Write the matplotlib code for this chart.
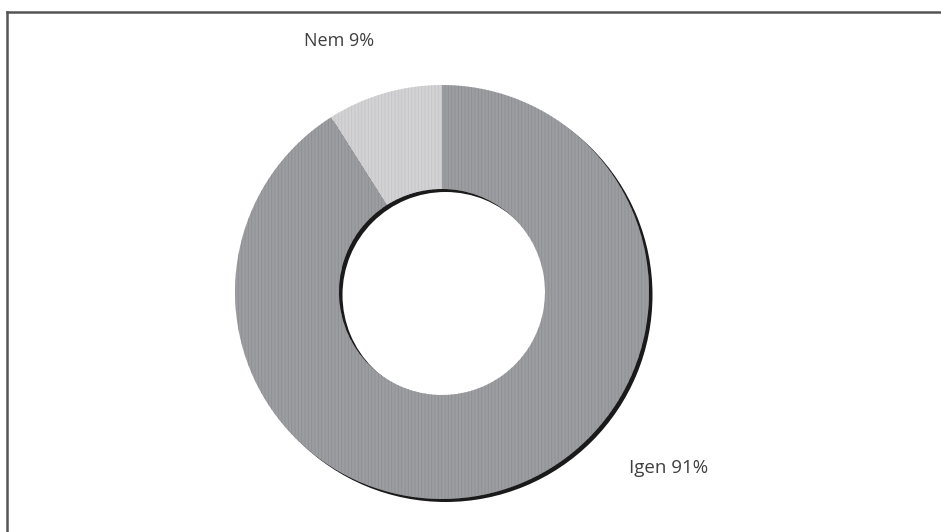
import numpy as np
import matplotlib
matplotlib.use("Agg")
import matplotlib.pyplot as plt

labels = ["Igen 91%", "Nem 9%"]
values = [91, 9]
colors = ["#9c9da1", "#d2d2d4"]
stripe_colors = ["#8e8f93", "#c6c6c8"]

plt.rcParams["font.family"] = ["Open Sans", "DejaVu Sans"]
plt.rcParams["hatch.linewidth"] = 0.6

W, H = 941, 532
fig = plt.figure(figsize=(W / 100, H / 100), dpi=100)
ax = fig.add_axes([0, 0, 1, 1])
ax.set_xlim(0, W)
ax.set_ylim(0, H)
ax.set_aspect("equal")
ax.axis("off")

cx, cy = 442, H - 292
r_out = 207
ring = 104

# dark shadow ring, shifted right/down
ax.pie([1], radius=r_out, center=(cx + 3.5, cy - 3), colors=["#1a1a1a"],
       wedgeprops=dict(width=ring, linewidth=0), frame=True)

wedges, _ = ax.pie(values, radius=r_out, center=(cx, cy), colors=colors,
                   startangle=90, counterclock=False,
                   wedgeprops=dict(width=ring, linewidth=0), frame=True)
for w, sc in zip(wedges, stripe_colors):
    w.set_hatch("|||||")
    w.set_edgecolor(sc)
    w.set_linewidth(0)

ax.set_xlim(0, W)
ax.set_ylim(0, H)
ax.axis("off")

# labels
ax.text(304, H - 41, labels[1], fontsize=13, color="#404040", ha="left", va="center")
ax.text(629, H - 468, labels[0], fontsize=13.5, color="#404040", ha="left", va="center")

# frame (top and left edges visible)
ax.plot([7, 7], [-5, H - 12], color="#555555", lw=1.8, clip_on=False)
ax.plot([7, W + 5], [H - 12, H - 12], color="#555555", lw=1.8, clip_on=False)

fig.savefig("out.png", dpi=100)
